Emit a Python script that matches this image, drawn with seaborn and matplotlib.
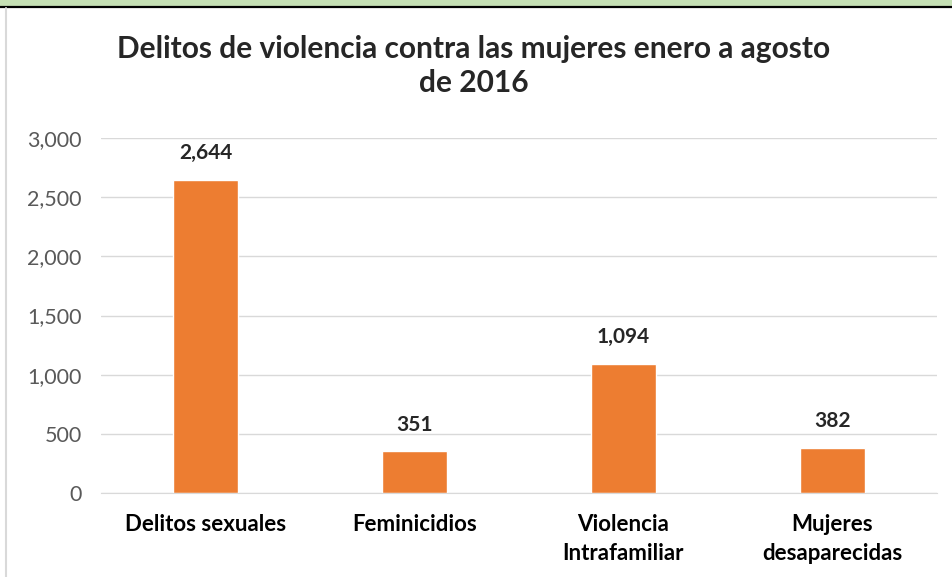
import matplotlib.pyplot as plt
import seaborn as sns
import pandas as pd
from matplotlib.patches import Rectangle
from matplotlib.lines import Line2D

categorias = ["Delitos sexuales", "Feminicidios", "Violencia\nIntrafamiliar", "Mujeres\ndesaparecidas"]
valores = [2644, 351, 1094, 382]

df = pd.DataFrame({"categoria": categorias, "valor": valores})

sns.set_style("white")
plt.rcParams["font.family"] = ["Lato", "DejaVu Sans"]

fig = plt.figure(figsize=(9.53, 5.77), dpi=100)

# franja verde y línea negra superiores, borde izquierdo
fig.patches.append(Rectangle((0, 1 - 6 / 577), 1, 6 / 577, transform=fig.transFigure,
                             facecolor="#c5e0b4", edgecolor="none"))
fig.lines.append(Line2D([0, 1], [1 - 7 / 577, 1 - 7 / 577], transform=fig.transFigure,
                        color="black", linewidth=1.6))
fig.lines.append(Line2D([6 / 953, 6 / 953], [0, 1 - 8 / 577], transform=fig.transFigure,
                        color="#d9d9d9", linewidth=1.5))

ax = fig.add_axes([101 / 953, 1 - 493 / 577, 836 / 953, 355 / 577])
sns.barplot(data=df, x="categoria", y="valor", color="#ed7d31", width=0.31,
            saturation=1, ax=ax)

ax.set_ylim(0, 3000)
ax.set_yticks(range(0, 3001, 500))
ax.set_yticklabels([f"{v:,}" for v in range(0, 3001, 500)], fontsize=15.5, color="#595959")
ax.yaxis.grid(True, color="#d9d9d9", linewidth=1)
ax.set_axisbelow(True)
for s in ["top", "right", "left"]:
    ax.spines[s].set_visible(False)
ax.spines["bottom"].set_color("#d9d9d9")
ax.tick_params(axis="y", length=0, pad=14)
ax.tick_params(axis="x", length=0, pad=15)
ax.set_xlabel("")
ax.set_ylabel("")
for lbl in ax.get_xticklabels():
    lbl.set_fontweight("bold")
    lbl.set_fontsize(16)
    lbl.set_color("black")
    lbl.set_linespacing(1.5)

for i, v in enumerate(valores):
    ax.annotate(f"{v:,}", (i, v), xytext=(0, 12), textcoords="offset points",
                ha="center", va="bottom", fontsize=15, fontweight="bold")

fig.text(474 / 953, 1 - 66 / 577,
         "Delitos de violencia contra las mujeres enero a agosto\nde 2016",
         ha="center", va="center", fontsize=21.5, fontweight="bold", linespacing=1.3)

fig.savefig("out.png", dpi=100)
